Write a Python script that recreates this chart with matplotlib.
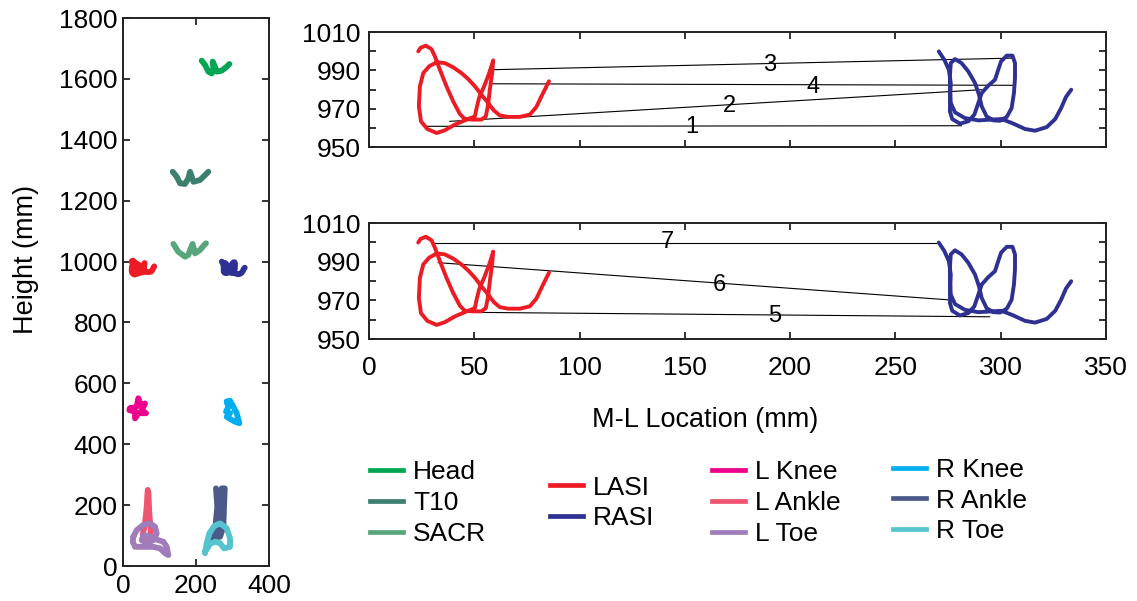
import numpy as np
import matplotlib.pyplot as plt
from matplotlib.ticker import MultipleLocator, FixedLocator

plt.rcParams['font.family'] = ['Liberation Sans', 'DejaVu Sans']

# marker trajectories (M-L location, height in mm)
lasi_x = [85.5, 82.7, 79.5, 76.4, 71.6, 66.1, 62.1, 59.3, 56.6, 53.4, 50.3, 47.1, 43.9, 40.0, 36.0,
          32.1, 28.6, 25.8, 24.2, 23.7, 24.7, 27.7, 32.1, 36.0, 40.8, 45.5, 50.3, 51.1, 52.3, 55.0,
          57.4, 59.0, 58.5, 57.4, 56.6, 55.5, 53.4, 49.5, 45.5, 43.2, 40.0, 36.8, 33.7, 31.3, 29.7,
          27.0, 24.5, 23.4]
lasi_y = [984.3, 978.2, 970.9, 966.9, 965.7, 965.7, 966.5, 969.1, 973.0, 977.3, 981.7, 985.5, 988.6,
          991.6, 993.8, 994.2, 992.1, 988.6, 981.7, 971.2, 963.4, 959.4, 957.3, 958.7, 961.7, 963.9,
          966.0, 970.3, 975.6, 982.5, 989.5, 995.2, 988.6, 979.9, 972.1, 966.0, 964.3, 964.3, 964.6,
          967.2, 973.8, 981.7, 990.3, 997.3, 1001.1, 1002.9, 1001.8, 999.9]

rasi_x = [270.6, 273.2, 275.4, 276.3, 276.0, 275.9, 277.0, 280.6, 284.6, 287.5, 289.4, 291.0, 294.1,
          297.3, 298.6, 300.2, 302.9, 305.6, 306.8, 306.8, 306.3, 305.2, 302.9, 299.7, 296.5, 293.3,
          291.0, 289.7, 287.8, 284.6, 281.4, 278.3, 276.3, 275.9, 275.9, 276.3, 278.3, 283.0, 289.4,
          295.7, 300.5, 306.0, 311.6, 316.3, 321.9, 325.9, 328.7, 331.0, 333.5]
rasi_y = [999.9, 995.6, 990.3, 983.4, 975.6, 968.6, 964.6, 962.2, 963.4, 966.9, 973.0, 978.2, 982.0,
          985.1, 989.5, 994.7, 997.7, 997.7, 993.8, 986.0, 978.2, 970.3, 965.7, 963.7, 963.9, 966.0,
          971.2, 977.3, 983.4, 989.5, 993.8, 995.9, 993.8, 986.9, 979.9, 973.0, 968.1, 965.1, 963.9,
          964.3, 964.6, 962.2, 959.4, 958.5, 960.4, 964.6, 970.3, 976.1, 979.9]

head_x = [215.6, 224.7, 233.8, 243.0, 247.5, 245.7, 252.0, 256.6, 270.3, 284.0, 291.4]
head_y = [1660, 1646, 1624, 1618, 1635, 1657, 1640, 1624, 1627, 1640, 1649]
t10_x = [136.1, 147.0, 156.2, 169.9, 179.0, 183.6, 188.2, 192.9, 211.0, 224.7, 233.7]
t10_y = [1295, 1279, 1257, 1255, 1274, 1295, 1279, 1262, 1268, 1284, 1295]
sacr_x = [137.9, 151.6, 169.9, 179.0, 185.5, 190.7, 194.5, 197.3, 211.0, 221.9, 227.4]
sacr_y = [1058, 1032, 1016, 1022, 1044, 1058, 1040, 1027, 1038, 1054, 1060]
lknee_x = [19.2, 37.4, 42.0, 48.4, 60.3, 51.1, 63.0, 42.0, 32.9, 32.9, 17.4, 19.2]
lknee_y = [518, 523, 551, 529, 534, 512, 502, 502, 485, 507, 512, 518]
rknee_x = [284.1, 293.2, 302.3, 311.5, 318.7, 306.9, 297.8, 284.1, 293.2, 282.2, 288.5, 284.1]
rknee_y = [540, 543, 523, 502, 469, 474, 480, 490, 502, 507, 523, 540]
lankle_x = [67.6, 64.9, 60.3, 53.9, 60.3, 74.0, 75.9, 72.1, 69.3]
lankle_y = [250, 195, 140, 102, 85, 88, 118, 173, 244]
rankle_x = [254.8, 258.4, 254.0, 249.3, 265.8, 274.9, 276.7, 278.6, 270.3, 268.5, 263.9, 258.4, 243.0]
rankle_y = [255, 195, 140, 99, 96, 129, 195, 255, 255, 195, 129, 96, 85]
ltoe_x = [28.3, 37.4, 55.6, 74.0, 87.7, 92.3, 83.1, 64.9, 51.1, 55.6, 74.0, 96.8, 110.5, 119.7,
          124.2, 115.1, 101.4, 83.1, 55.6, 32.9, 26.6, 28.3]
ltoe_y = [96, 118, 135, 140, 129, 107, 85, 75, 85, 102, 96, 85, 80, 63, 36, 42, 58, 63, 63, 63, 80, 96]
rtoe_x = [224.7, 229.3, 236.5, 249.3, 265.8, 284.1, 293.2, 293.2, 276.7, 265.8, 252.1, 238.4, 224.7]
rtoe_y = [42, 75, 107, 131, 140, 124, 91, 63, 58, 75, 80, 72, 47]

# connecting segments between LASI and RASI, with their numbers
top_seg_x = [[26.6, 281.4], [38.4, 291.0], [57.0, 306.0], [58.2, 306.0]]
top_seg_y = [[960.8, 961.1], [963.4, 979.9], [990.3, 996.4], [983.0, 982.2]]
top_num = ['1', '2', '3', '4']
top_num_x = [153.3, 171.3, 190.3, 210.7]
top_num_y = [960.4, 971.4, 992.8, 981.3]
bot_seg_x = [[48.7, 294.7], [32.9, 276.1], [30.5, 269.4]]
bot_seg_y = [[963.8, 961.5], [989.5, 970.2], [999.8, 999.8]]
bot_num = ['5', '6', '7']
bot_num_x = [192.7, 166.6, 141.9]
bot_num_y = [961.7, 977.9, 1000.2]

colors = {
    'Head': '#00a651', 'T10': '#3d7f6f', 'SACR': '#58a67b',
    'LASI': '#ed1c24', 'RASI': '#2e3192',
    'L Knee': '#ec008c', 'L Ankle': '#ef5470', 'L Toe': '#a17cba',
    'R Knee': '#00aeef', 'R Ankle': '#4b5a88', 'R Toe': '#56c4cf',
}

fig = plt.figure(figsize=(11.37, 6.01), dpi=100)

def style_axes(ax):
    for s in ax.spines.values():
        s.set_linewidth(1.4)
        s.set_color('#222222')
    ax.tick_params(which='both', direction='in', top=True, right=True,
                   length=5, width=1.3, labelsize=19, color='#222222')

# left panel: whole body
ax0 = fig.add_axes([0.1082, 0.0582, 0.1284, 0.9118])
traj = [('Head', head_x, head_y), ('T10', t10_x, t10_y), ('SACR', sacr_x, sacr_y),
        ('LASI', lasi_x, lasi_y), ('RASI', rasi_x, rasi_y),
        ('L Knee', lknee_x, lknee_y), ('R Knee', rknee_x, rknee_y),
        ('L Ankle', lankle_x, lankle_y), ('R Ankle', rankle_x, rankle_y),
        ('L Toe', ltoe_x, ltoe_y), ('R Toe', rtoe_x, rtoe_y)]
for name, xs, ys in traj:
    ax0.plot(xs, ys, color=colors[name], lw=4.2, solid_capstyle='round',
             solid_joinstyle='round')
ax0.set_xlim(0, 400)
ax0.set_ylim(0, 1800)
ax0.set_xticks([0, 200, 400])
ax0.set_yticks(np.arange(0, 1801, 200))
style_axes(ax0)
ax0.tick_params(axis='y', pad=4)
ax0.tick_params(axis='x', pad=6)
ax0.set_ylabel('Height (mm)', fontsize=19.5, labelpad=14)
ax0.yaxis.label.set_y(0.56)

# right panels: pelvis markers
def pelvis_panel(rect, seg_x, seg_y, nums, nx, ny, show_x):
    ax = fig.add_axes(rect)
    for sx, sy in zip(seg_x, seg_y):
        ax.plot(sx, sy, color='black', lw=0.8)
    ax.plot(lasi_x, lasi_y, color=colors['LASI'], lw=2.8, solid_capstyle='round')
    ax.plot(rasi_x, rasi_y, color=colors['RASI'], lw=2.8, solid_capstyle='round')
    for t, x, y in zip(nums, nx, ny):
        ax.text(x, y, t, fontsize=17, ha='center', va='center')
    ax.set_xlim(0, 350)
    ax.set_ylim(950, 1010)
    ax.xaxis.set_major_locator(MultipleLocator(50))
    ax.yaxis.set_major_locator(FixedLocator([950, 970, 990, 1010]))
    ax.yaxis.set_minor_locator(FixedLocator([960, 980, 1000]))
    style_axes(ax)
    ax.tick_params(axis='y', pad=6)
    ax.tick_params(axis='x', pad=12.5)
    if not show_x:
        ax.tick_params(axis='x', labelbottom=False)
    return ax

ax1 = pelvis_panel([0.3245, 0.7554, 0.6482, 0.1913], top_seg_x, top_seg_y,
                   top_num, top_num_x, top_num_y, False)
ax2 = pelvis_panel([0.3245, 0.4359, 0.6482, 0.1930], bot_seg_x, bot_seg_y,
                   bot_num, bot_num_x, bot_num_y, True)
ax2.set_xlabel('M-L Location (mm)', fontsize=19.5, labelpad=19)
ax2.xaxis.label.set_x(0.456)

# legend in four groups
groups = [(['Head', 'T10', 'SACR'], 0.3254, 0.163),
          (['LASI', 'RASI'], 0.4837, 0.163),
          (['L Knee', 'L Ankle', 'L Toe'], 0.6266, 0.163),
          (['R Knee', 'R Ankle', 'R Toe'], 0.7854, 0.167)]
for names, lx, ly in groups:
    handles = [plt.Line2D([], [], color=colors[n], lw=3.4) for n in names]
    fig.legend(handles, names, loc='center left', bbox_to_anchor=(lx, ly),
               frameon=False, fontsize=19, handlelength=1.25, handletextpad=0.38,
               labelspacing=0.26, borderpad=0, borderaxespad=0)

fig.savefig('out.png', dpi=100)
